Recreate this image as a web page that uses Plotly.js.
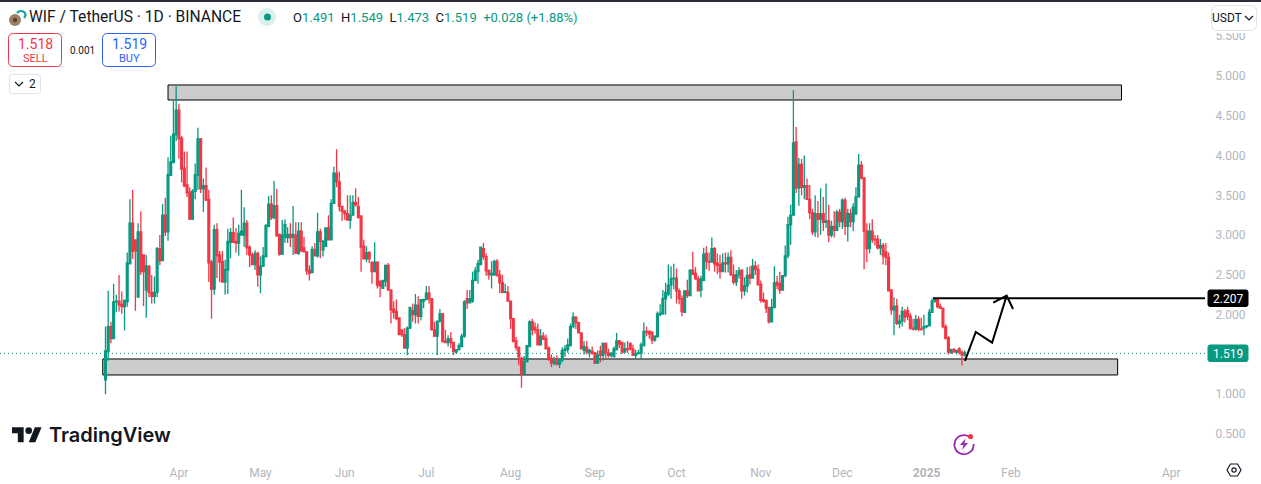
<!DOCTYPE html>
<html><head><meta charset="utf-8">
<script src="https://cdn.plot.ly/plotly-3.0.1.min.js"></script>
<style>html,body{margin:0;padding:0;background:#fff;overflow:hidden}#c{width:1261px;height:484px}</style>
</head><body><div id="c"></div>
<script>
// Daily candles as [open, high, low, close].
const launchToApril = [[1.18,1.85,1.0,1.545],[1.535,2.30,1.42,1.85],[1.85,1.91,1.64,1.70],[1.70,2.39,1.70,2.16],[2.16,2.25,2.03,2.17],[2.17,2.50,2.04,2.12],[2.13,2.29,2.01,2.10],[2.10,2.19,1.80,2.18],[2.16,2.78,2.10,2.65],[2.64,3.45,2.64,3.15],[3.15,3.57,2.70,2.80],[2.94,2.94,2.05,2.80],[2.22,3.15,2.22,3.04],[3.04,3.30,2.50,2.54],[2.75,2.75,2.11,2.54],[2.31,2.75,1.96,2.61],[2.61,2.62,2.22,2.28],[2.28,2.50,2.14,2.23],[2.23,2.48,2.14,2.28],[2.28,2.85,2.22,2.83],[2.83,3.0,2.62,2.68],[2.68,3.39,2.68,3.25],[3.25,3.47,2.99,3.04],[3.04,3.98,2.93,3.76],[3.75,4.25,3.75,3.92],[3.91,4.69,3.91,4.27],[4.26,4.87,4.18,4.57]];
const aprilToMay = [[4.57,4.65,3.96,4.21],[4.22,4.25,3.66,3.83],[3.84,4.05,3.6,3.62],[3.63,4.05,3.48,3.53],[3.54,3.6,3.19,3.20],[3.2,3.58,3.19,3.55],[3.55,3.9,3.45,3.76],[3.75,4.35,3.57,4.21],[4.21,4.22,3.53,3.58],[3.58,3.71,3.29,3.62],[3.62,3.85,3.43,3.44],[3.45,3.57,2.41,2.65],[2.66,2.69,1.95,2.32],[2.32,3.13,2.25,3.07],[3.07,3.15,2.46,2.74],[2.75,2.80,2.41,2.66],[2.67,2.8,2.41,2.41],[2.41,2.69,2.25,2.57],[2.56,3.08,2.26,2.92],[2.91,3.09,2.71,3.03],[3.03,3.22,2.90,2.91],[2.92,3.09,2.78,2.90],[2.90,3.13,2.74,3.02],[3.0,3.57,3.0,3.05],[3.0,3.35,2.85,3.15],[3.15,3.19,2.75,2.84],[2.85,2.87,2.6,2.75],[2.75,2.78,2.62,2.63],[2.63,2.81,2.56,2.77],[2.77,2.79,2.35,2.5],[2.5,2.73,2.27,2.61],[2.61,2.85,2.6,2.74],[2.73,3.14,2.72,3.12],[3.11,3.49,3.1,3.39],[3.39,3.5,3.19,3.22],[3.22,3.68,3.2,3.37],[3.37,3.58,2.98,2.99],[3.01,3.02,2.74,2.76],[2.76,3.19,2.75,3.0],[2.97,3.2,2.9,3.13]];
const mayToJuly = [[2.97,3.1,2.9,3.01],[3.01,3.15,2.85,2.97],[2.97,3.365,2.75,3.01],[3.0,3.16,2.77,2.77],[2.77,3.16,2.75,3.05],[3.05,3.16,2.79,2.80],[2.84,2.98,2.78,2.79],[2.79,2.79,2.50,2.55],[2.56,2.62,2.43,2.52],[2.53,2.86,2.52,2.82],[2.82,2.90,2.73,2.74],[2.74,3.28,2.72,3.04],[3.04,3.08,2.71,2.92],[2.81,2.94,2.73,2.92],[2.86,3.10,2.85,3.09],[3.09,3.25,2.94,2.94],[2.94,3.45,2.94,3.40],[3.40,3.86,3.39,3.78],[3.78,4.08,3.6,3.67],[3.67,3.80,3.3,3.36],[3.36,3.37,3.18,3.30],[3.30,3.32,3.19,3.27],[3.27,3.50,3.19,3.19],[3.19,3.50,3.08,3.25],[3.25,3.50,3.25,3.41],[3.41,3.59,3.36,3.38],[3.36,3.48,3.21,3.22],[3.24,3.24,2.54,2.85],[2.86,2.94,2.70,2.70],[2.70,2.86,2.66,2.78],[2.78,2.80,2.65,2.70],[2.66,2.66,2.39,2.54],[2.54,2.91,2.54,2.66],[2.66,2.67,2.33,2.37],[2.42,2.43,2.22,2.36],[2.33,2.43,2.33,2.43],[2.42,2.63,2.35,2.62],[2.62,2.65,2.30,2.31],[2.31,2.31,1.89,2.06],[2.07,2.17,1.95,2.03],[2.04,2.19,1.93,1.95],[1.96,1.96,1.74,1.75],[1.81,1.81,1.72,1.75],[1.75,1.83,1.58,1.58],[1.58,1.85,1.49,1.83]];
const julyToAugust = [[1.83,2.09,1.82,2.09],[2.05,2.14,1.91,2.0],[2.0,2.26,1.89,2.12],[2.12,2.23,1.89,1.98],[1.98,2.19,1.93,2.19],[2.17,2.2,2.08,2.19],[2.19,2.36,2.18,2.27],[2.27,2.36,2.14,2.2],[2.2,2.2,1.81,1.81],[1.81,1.91,1.72,1.73],[1.73,1.92,1.49,1.92],[1.92,2.07,1.90,2.01],[2.01,2.02,1.66,1.66],[1.67,1.81,1.65,1.65],[1.65,1.74,1.60,1.70],[1.70,1.78,1.58,1.65],[1.65,1.65,1.49,1.54],[1.53,1.56,1.51,1.56],[1.56,1.64,1.55,1.61],[1.60,1.76,1.60,1.73],[1.73,2.18,1.71,2.16],[2.2,2.31,2.07,2.15],[2.15,2.31,2.15,2.2],[2.17,2.54,2.15,2.43],[2.43,2.60,2.42,2.55],[2.54,2.69,2.39,2.64],[2.63,2.85,2.63,2.85],[2.83,2.90,2.69,2.73],[2.73,2.77,2.49,2.55],[2.56,2.56,2.44,2.50],[2.5,2.67,2.33,2.52],[2.5,2.69,2.49,2.67],[2.67,2.70,2.48,2.49],[2.50,2.56,2.27,2.40],[2.40,2.50,2.27,2.28],[2.28,2.39,2.27,2.29],[2.28,2.36,2.17,2.17],[2.17,2.17,1.82,1.95],[1.95,1.95,1.66,1.66],[1.67,1.72,1.55,1.59],[1.59,1.6,1.36,1.47]];
const augustToOctober = [[1.45,1.47,1.08,1.255],[1.255,1.48,1.255,1.41],[1.41,1.61,1.40,1.61],[1.60,1.93,1.60,1.91],[1.91,1.95,1.74,1.81],[1.84,1.90,1.76,1.81],[1.81,1.89,1.62,1.62],[1.62,1.82,1.62,1.73],[1.73,1.78,1.68,1.69],[1.70,1.75,1.57,1.57],[1.58,1.60,1.42,1.44],[1.45,1.50,1.34,1.39],[1.39,1.47,1.36,1.42],[1.42,1.49,1.36,1.38],[1.38,1.45,1.33,1.43],[1.43,1.59,1.40,1.55],[1.55,1.62,1.47,1.57],[1.56,1.70,1.52,1.62],[1.61,1.89,1.60,1.85],[1.85,2.03,1.83,1.97],[1.97,1.98,1.82,1.90],[1.90,1.91,1.77,1.77],[1.77,1.77,1.57,1.57],[1.55,1.67,1.50,1.60],[1.59,1.67,1.50,1.53],[1.53,1.57,1.46,1.55],[1.54,1.60,1.50,1.51],[1.52,1.53,1.38,1.39],[1.39,1.55,1.38,1.49],[1.54,1.61,1.40,1.49],[1.49,1.65,1.42,1.64],[1.64,1.65,1.43,1.52],[1.52,1.57,1.46,1.49],[1.49,1.53,1.46,1.51],[1.47,1.60,1.47,1.57],[1.56,1.77,1.55,1.67],[1.67,1.68,1.58,1.63],[1.65,1.66,1.51,1.53],[1.53,1.65,1.52,1.57],[1.57,1.67,1.52,1.56],[1.64,1.65,1.55,1.57],[1.57,1.62,1.49,1.49],[1.49,1.56,1.45,1.51],[1.51,1.56,1.50,1.52],[1.52,1.65,1.44,1.62],[1.61,1.90,1.60,1.79],[1.79,1.85,1.73,1.78],[1.79,1.80,1.70,1.76]];
const octoberToNovember = [[1.78,1.79,1.63,1.68],[1.68,1.74,1.66,1.73],[1.72,2.04,1.72,2.01],[2.0,2.13,1.98,2.02],[2.01,2.31,2.0,2.205],[2.2,2.40,2.0,2.28],[2.26,2.63,2.23,2.37],[2.37,2.61,2.20,2.457],[2.45,2.64,2.32,2.46],[2.46,2.58,2.14,2.30],[2.30,2.33,2.13,2.2],[2.2,2.24,1.98,2.04],[2.03,2.3,2.03,2.30],[2.30,2.44,2.21,2.24],[2.24,2.57,2.24,2.56],[2.56,2.79,2.5,2.51],[2.52,2.6,2.44,2.45],[2.45,2.49,2.3,2.30],[2.31,2.49,2.22,2.45],[2.43,2.84,2.42,2.76],[2.77,2.86,2.57,2.67],[2.67,2.78,2.55,2.66],[2.66,2.97,2.66,2.83],[2.83,2.85,2.54,2.64],[2.65,2.77,2.51,2.62],[2.63,2.75,2.45,2.54],[2.54,2.77,2.54,2.65],[2.65,2.78,2.53,2.64],[2.64,2.78,2.53,2.72],[2.72,2.81,2.49,2.50],[2.5,2.63,2.38,2.41],[2.41,2.56,2.36,2.5],[2.5,2.6,2.45,2.55],[2.56,2.57,2.2,2.30],[2.3,2.47,2.24,2.36],[2.36,2.6,2.28,2.49],[2.5,2.61,2.38,2.46],[2.46,2.7,2.46,2.61],[2.61,2.67,2.5,2.57],[2.57,2.63,2.36,2.38],[2.38,2.43,2.15,2.18],[2.19,2.28,2.15,2.17],[2.18,2.18,2.02,2.08],[2.09,2.1,1.89,1.91],[1.91,2.2,1.91,2.09],[2.09,2.61,2.09,2.40],[2.41,2.49,2.32,2.37],[2.39,2.54,2.26,2.31]];
const novemberPeak = [[2.31,2.5,2.31,2.49],[2.49,2.87,2.47,2.74],[2.74,3.23,2.71,3.13],[3.13,3.38,2.88,3.25],[3.25,4.82,3.25,4.16],[4.17,4.36,3.53,3.59],[3.59,3.97,3.37,3.89],[3.89,3.96,3.50,3.60],[3.6,4.0,3.45,3.62],[3.62,3.71,3.44,3.45],[3.45,3.63,3.2,3.28],[3.28,3.33,3.0,3.04],[3.04,3.5,2.98,3.27],[3.27,3.43,2.97,3.2],[3.2,3.59,3.0,3.27],[3.27,3.48,3.05,3.16],[3.16,3.65,3.09,3.18],[3.18,3.38,2.91,3.0],[3.0,3.18,2.97,3.11],[3.11,3.3,2.97,3.06],[3.06,3.32,3.05,3.29],[3.29,3.33,3.1,3.17],[3.17,3.46,3.08,3.44],[3.44,3.47,3.0,3.11],[3.11,3.33,2.92,3.27],[3.27,3.33,3.1,3.17],[3.17,3.4,3.05,3.35],[3.27,3.6,3.25,3.48],[3.48,4.02,3.47,3.88],[3.88,3.93,3.7,3.72]];
const decemberToJanuary = [[3.72,3.72,2.57,3.05],[3.05,3.15,2.66,2.83],[2.83,3.15,2.77,3.05],[3.05,3.2,2.9,2.94],[2.95,3.0,2.87,2.94],[2.95,3.0,2.82,2.84],[2.84,2.95,2.75,2.87],[2.87,2.9,2.63,2.74],[2.79,2.9,2.62,2.72],[2.72,2.78,2.3,2.3],[2.31,2.32,2.0,2.06],[2.06,2.22,1.74,2.1],[2.11,2.2,1.87,1.89],[1.89,2.0,1.83,1.92],[1.92,2.1,1.85,2.04],[2.04,2.07,1.9,1.97],[2.05,2.1,1.93,1.98],[1.98,2.02,1.81,1.83],[1.83,1.95,1.8,1.82],[1.82,2.0,1.8,1.94],[1.94,1.98,1.79,1.82],[1.82,1.96,1.8,1.81],[1.83,2.0,1.74,1.85],[1.85,1.87,1.83,1.86],[1.86,2.07,1.85,2.03],[2.03,2.2,2.02,2.17],[2.17,2.21,2.15,2.2],[2.19,2.21,2.08,2.1],[2.1,2.14,2.07,2.08],[2.08,2.09,1.83,1.85],[1.85,1.88,1.7,1.7],[1.71,1.73,1.5,1.53],[1.52,1.57,1.51,1.56],[1.56,1.58,1.52,1.53],[1.53,1.56,1.5,1.55],[1.57,1.59,1.5,1.53],[1.53,1.55,1.36,1.491],[1.491,1.549,1.473,1.519]];

const firstDay = '2024-03-05';
const xTickDates = ['2024-04-01','2024-05-01','2024-06-01','2024-07-01','2024-08-01','2024-09-01','2024-10-01','2024-11-01','2024-12-01','2025-01-01','2025-02-01','2025-04-01'];
const xTickLabels = ['Apr','May','Jun','Jul','Aug','Sep','Oct','Nov','Dec','<b>2025</b>','Feb','Apr'];
const yTickValues = [0.5,1,2,2.5,3,3.5,4,4.5,5,5.5];
const lastPriceLine = 1.513;
const targetPrice = 2.207;
const arrowDates = ['2025-01-15 02:00','2025-01-19 02:00','2025-01-25 02:00','2025-01-30 10:00','2025-01-25 12:00','2025-01-30 10:00','2025-02-01 19:00'];
const arrowPrices = [1.418,1.782,1.648,2.238,2.15,2.238,2.071];

const candles = [].concat(launchToApril,aprilToMay,mayToJuly,julyToAugust,augustToOctober,octoberToNovember,novemberPeak,decemberToJanuary);
const dates = candles.map((_,i)=>{const d=new Date(firstDay+'T00:00:00Z');d.setUTCDate(d.getUTCDate()+i);return d.toISOString().slice(0,10);});

const W=1205,H=456, X=p=>p/W, Y=p=>1-p/H;
const GREEN='#089981',RED='#F23645',GREY='#b2b5be',INK='#131722';
function rr(x0,y0,x1,y1,r){const a=X,b=Y;
 return `M${a(x0+r)},${b(y0)}L${a(x1-r)},${b(y0)}Q${a(x1)},${b(y0)} ${a(x1)},${b(y0+r)}L${a(x1)},${b(y1-r)}Q${a(x1)},${b(y1)} ${a(x1-r)},${b(y1)}L${a(x0+r)},${b(y1)}Q${a(x0)},${b(y1)} ${a(x0)},${b(y1-r)}L${a(x0)},${b(y0+r)}Q${a(x0)},${b(y0)} ${a(x0+r)},${b(y0)}Z`;}
function box(x0,y0,x1,y1,r,line,fill){return {type:'path',xref:'paper',yref:'paper',path:rr(x0,y0,x1,y1,r),line:{color:line,width:1},fillcolor:fill,layer:'above'};}
function chevron(cx,cy){return {type:'path',xref:'paper',yref:'paper',path:`M${X(cx-4)},${Y(cy-2)}L${X(cx)},${Y(cy+2)}L${X(cx+4)},${Y(cy-2)}`,line:{color:INK,width:1.2},layer:'above'};}
function label(px,py,text,size,color,anchor,extra){return Object.assign({xref:'paper',yref:'paper',x:X(px),y:Y(py),text:text,showarrow:false,xanchor:anchor||'left',yanchor:'middle',borderpad:0,font:{size:size,color:color,family:'Roboto, sans-serif'}},extra||{});}
function svg(s){return 'data:image/svg+xml;utf8,'+encodeURIComponent(s);}
function icon(px,py,w,h,s){return {source:svg(s),xref:'paper',yref:'paper',x:X(px),y:Y(py),sizex:w/W,sizey:h/H,sizing:'stretch',xanchor:'left',yanchor:'top',layer:'above'};}

const g=(t)=>`<span style="color:${GREEN}">${t}</span>`;
const traces=[{type:'candlestick',x:dates,
  open:candles.map(c=>c[0]),high:candles.map(c=>c[1]),low:candles.map(c=>c[2]),close:candles.map(c=>c[3]),
  increasing:{line:{color:GREEN,width:1.3},fillcolor:GREEN},decreasing:{line:{color:RED,width:1.3},fillcolor:RED},whiskerwidth:0,hoverinfo:'skip'},
 {type:'scatter',mode:'lines',x:arrowDates,y:arrowPrices,line:{color:'#000',width:2},hoverinfo:'skip'}];

const layout={width:1261,height:484,margin:{l:0,r:56,t:0,b:28},paper_bgcolor:'#fff',plot_bgcolor:'#fff',showlegend:false,hovermode:false,boxgap:0.05,
 font:{family:'Roboto, sans-serif',color:GREY,size:12},
 xaxis:{type:'date',range:['2024-01-26 05:00','2025-04-13 09:00'],rangeslider:{visible:false},showgrid:false,zeroline:false,showline:false,
   tickmode:'array',tickvals:xTickDates,ticktext:xTickLabels,ticks:'outside',ticklen:6,tickcolor:'rgba(0,0,0,0)',tickfont:{size:12,color:GREY}},
 yaxis:{side:'right',range:[0.2235,5.955],showgrid:false,zeroline:false,showline:false,tickmode:'array',tickvals:yTickValues,ticktext:yTickValues.map(v=>v.toFixed(3)),
   ticks:'outside',ticklen:7,tickcolor:'rgba(0,0,0,0)',tickfont:{size:12,color:GREY}},
 shapes:[
  {type:'rect',xref:'x',yref:'y',x0:'2024-03-28 00:00',x1:'2025-03-13 16:00',y0:4.698,y1:4.887,fillcolor:'#cccccc',line:{color:'#000',width:1},layer:'below'},
  {type:'rect',xref:'x',yref:'y',x0:'2024-03-04 00:00',x1:'2025-03-12 06:00',y0:1.242,y1:1.443,fillcolor:'#cccccc',line:{color:'#000',width:1},layer:'below'},
  {type:'line',xref:'paper',yref:'y',x0:0,x1:X(1208),y0:lastPriceLine,y1:lastPriceLine,line:{color:GREEN,width:1,dash:'1px,3px'},layer:'below'},
  {type:'line',xref:'x',yref:'y',x0:'2025-01-03 07:00',x1:'2025-04-13 09:00',y0:targetPrice,y1:targetPrice,line:{color:'#000',width:2},layer:'above'},
  {type:'rect',xref:'paper',yref:'paper',x0:X(1208),x1:X(1261),y0:Y(33),y1:Y(0),fillcolor:'#fff',line:{width:0},layer:'above'},
  {type:'rect',xref:'paper',yref:'paper',x0:0,x1:X(1261),y0:Y(2),y1:Y(0),fillcolor:'#2a2e39',line:{width:0},layer:'above'},
  box(1208,290,1248,306.5,2,'#000','#000'),
  box(1208,345,1248,361.5,2,GREEN,GREEN),
  box(1211.5,5.5,1256.5,30.5,6,'#e0e3eb','#fff'),
  chevron(1249,18),
  box(8.5,33.5,61.5,66.5,5,RED,'#fff'),
  box(102.5,33.5,155.5,66.5,5,'#2962ff','#fff'),
  box(9.5,74.5,40.5,93.5,3,'#e0e3eb','#fff'),
  chevron(19,84),
  {type:'circle',xref:'paper',yref:'paper',x0:X(258),x1:X(276),y0:Y(26),y1:Y(8),fillcolor:'#d9f0eb',line:{width:0},layer:'above'},
  {type:'circle',xref:'paper',yref:'paper',x0:X(264),x1:X(271),y0:Y(20.5),y1:Y(13.5),fillcolor:GREEN,line:{width:0},layer:'above'}
 ],
 annotations:[
  label(28,17.5,'WIF / TetherUS · 1D · BINANCE',15.6,INK),
  label(292,17.5,`O${g('1.491')}  H${g('1.549')}  L${g('1.473')}  C${g('1.519')}  ${g('+0.028 (+1.88%)')}`,13,INK),
  label(35,44,'1.518',14,RED,'center'),
  label(35,58,'SELL',11,RED,'center'),
  label(82,50,'0.001',10,INK,'center'),
  label(129,44,'1.519',14,'#2962ff','center'),
  label(129,58,'BUY',11,'#2962ff','center'),
  label(32,84,'2',12,INK,'center'),
  label(1227,18,'USDT',12,INK,'center'),
  label(1228,298.5,'2.207',12,'#fff','center'),
  label(1228,353.5,'1.519',12,'#fff','center'),
  label(48,435,'TradingView',20,INK,'left',{font:{size:20,color:INK,family:'Inter, sans-serif',weight:600}})
 ],
 images:[
  icon(8,7,22,21,'<svg xmlns="http://www.w3.org/2000/svg" viewBox="0 0 22 21"><circle cx="7" cy="13" r="6" fill="#9b8168"/><circle cx="7" cy="13" r="2.2" fill="#5c4433"/><path d="M9 6a5 5 0 0 1 8 0c1 2 0 4-1 5" fill="none" stroke="#1aa6a0" stroke-width="2.2"/></svg>'),
  icon(12,424,30,23.3,'<svg xmlns="http://www.w3.org/2000/svg" viewBox="0 0 36 28"><path d="M14 22H7V11H0V4h14v18zM28 22h-8l7.5-18h8L28 22z" fill="#131722"/><circle cx="20" cy="8" r="4" fill="#131722"/></svg>'),
  icon(952,432,24,24,'<svg xmlns="http://www.w3.org/2000/svg" viewBox="0 0 24 24"><path d="M17 4.5A9.6 9.6 0 1 0 21.6 12" fill="none" stroke="#9c27b0" stroke-width="1.8"/><path d="M13.5 6.5L8 13h3.5l-1.5 5 6-7h-3.5z" fill="#9c27b0"/><circle cx="18.5" cy="4.5" r="2.6" fill="#f23645"/></svg>'),
  icon(1226,462,16,16,'<svg xmlns="http://www.w3.org/2000/svg" viewBox="0 0 16 16"><path d="M4.5 2h7L15 8l-3.5 6h-7L1 8z" fill="none" stroke="#131722" stroke-width="1.2"/><circle cx="8" cy="8" r="2.1" fill="none" stroke="#131722" stroke-width="1.2"/></svg>')
 ]
};
Plotly.newPlot('c',traces,layout,{displayModeBar:false,staticPlot:true});
</script></body></html>
